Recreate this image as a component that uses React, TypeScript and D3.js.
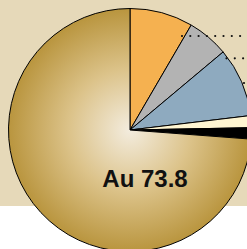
import React from 'react';
import * as d3 from 'd3';

// composition in percent, clockwise from 12 o'clock
const elements = ['A', 'B', 'C', 'D', 'E', 'Au'];
const values = [8.4, 5.5, 9.2, 1.6, 1.5, 73.8];
const colors = ['#f5b150', '#b3b3b3', '#8eaabf', '#fff6d2', '#000000', 'url(#gold)'];

const App = () => {
  const width = 247;
  const height = 249;
  const cx = 130;
  const cy = 130;
  const radius = 121.5;

  const pie = d3.pie<number>().sort(null).startAngle(0).endAngle(2 * Math.PI);
  const arcs = pie(values);
  const arc = d3.arc<d3.PieArcDatum<number>>().innerRadius(0).outerRadius(radius);

  // dotted leaders running off the right edge towards the (cropped) labels
  const leaderY = [36, 58.3, 83];
  const leaderX = [182, 226.5, 244];

  return (
    <svg width={width} height={height} style={{ position: 'absolute', left: 0, top: 0 }}>
      <defs>
        <radialGradient id="gold" cx={0} cy={0} r={radius} gradientUnits="userSpaceOnUse">
          <stop offset="0%" stopColor="#f3ecde" />
          <stop offset="50%" stopColor="#dcc38a" />
          <stop offset="100%" stopColor="#b9953e" />
        </radialGradient>
      </defs>
      <rect x={0} y={0} width={width} height={206} fill="#e6d9b9" />
      <g transform={`translate(${cx},${cy})`}>
        {arcs.map((d, i) => (
          <path key={i} d={arc(d) || ''} fill={colors[i]} stroke="#000" strokeWidth={1} strokeLinejoin="round" />
        ))}
      </g>
      {leaderY.map((y, i) => (
        <line
          key={i}
          x1={leaderX[i]}
          y1={y}
          x2={width + 10}
          y2={y}
          stroke="#111"
          strokeWidth={2.2}
          strokeLinecap="round"
          strokeDasharray="0 8.3"
        />
      ))}
      <text
        x={145}
        y={187}
        textAnchor="middle"
        fontFamily="Liberation Sans, Arial, sans-serif"
        fontWeight="bold"
        fontSize={24}
        fill="#111"
      >
        {`${elements[5]} ${values[5]}`}
      </text>
    </svg>
  );
};

export default App;
